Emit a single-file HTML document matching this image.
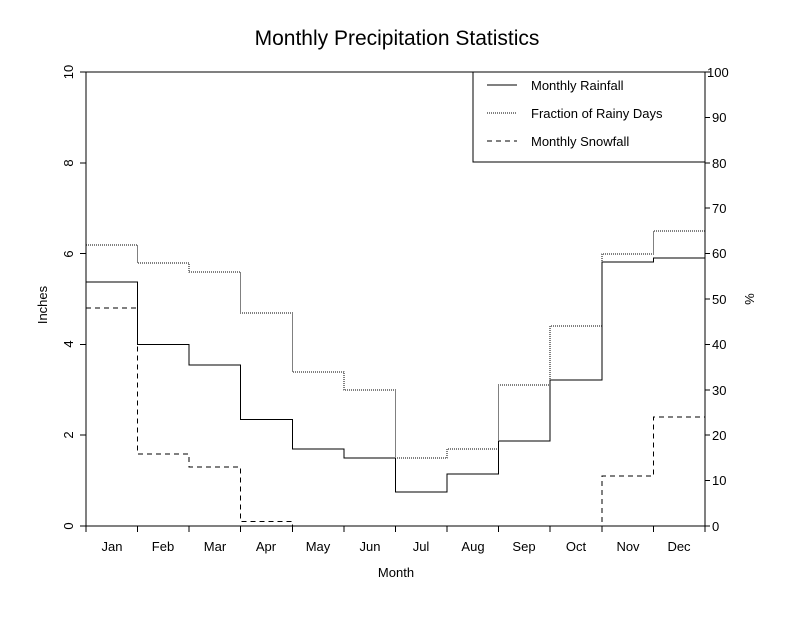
<!DOCTYPE html>
<html><head><meta charset="utf-8"><style>
html,body{margin:0;padding:0;background:#fff;}
text{font-family:"Liberation Sans",sans-serif;fill:#000;}
</style></head><body>
<svg width="792" height="612" viewBox="0 0 792 612" xmlns="http://www.w3.org/2000/svg">
<rect width="792" height="612" fill="#fff"/>
<text x="397" y="45" font-size="21" text-anchor="middle">Monthly Precipitation Statistics</text>
<g stroke="#000" stroke-width="1" fill="none" shape-rendering="crispEdges">
<line x1="86" y1="72" x2="705" y2="72"/>
<line x1="86" y1="72" x2="86" y2="526"/>
<line x1="705" y1="72" x2="705" y2="526"/>
<line x1="86" y1="526" x2="705" y2="526"/>
<path d="M80 526H86M80 435.2H86M80 344.4H86M80 253.6H86M80 162.8H86M80 72H86"/>
<path d="M705 526H710M705 480.6H710M705 435.2H710M705 389.8H710M705 344.4H710M705 299H710M705 253.6H710M705 208.2H710M705 162.8H710M705 117.4H710M705 72H710"/>
<path d="M86 526V532M137.6 526V532M189.2 526V532M240.7 526V532M292.3 526V532M343.9 526V532M395.5 526V532M447.1 526V532M498.7 526V532M550.2 526V532M601.8 526V532M653.4 526V532M705 526V532"/>
<rect x="473" y="72" width="232" height="90" fill="#fff"/>
<line x1="487" y1="85" x2="517" y2="85"/>
<line x1="487" y1="113" x2="517" y2="113" stroke-dasharray="1,1"/>
<line x1="487" y1="141" x2="517" y2="141" stroke-dasharray="5,4"/>
<path d="M86 282H137.6V344.4H189.2V365H240.7V419.5H292.3V449H343.9V458H395.5V492H447.1V474H498.7V441H550.2V380H601.8V262H653.4V258H705"/>
<path stroke-dasharray="1,1" d="M86 245H137.6V263H189.2V272H240.7V313H292.3V372H343.9V390H395.5V458H447.1V449H498.7V385H550.2V326H601.8V254H653.4V231H705"/>
<path stroke-dasharray="5,4" d="M86 308H137.6V454H189.2V467H240.7V521.5H292.3V526H601.8V476H653.4V417H705"/>
</g>
<g font-size="13" text-anchor="middle">
<text transform="translate(73,526) rotate(-90)">0</text>
<text transform="translate(73,435) rotate(-90)">2</text>
<text transform="translate(73,344) rotate(-90)">4</text>
<text transform="translate(73,254) rotate(-90)">6</text>
<text transform="translate(73,163) rotate(-90)">8</text>
<text transform="translate(73,72) rotate(-90)">10</text>
<text transform="translate(47,305) rotate(-90)">Inches</text>
<text transform="translate(745,299) rotate(90)">%</text>
</g>
<g font-size="13">
<text x="712" y="531">0</text>
<text x="712" y="485">10</text>
<text x="712" y="440">20</text>
<text x="712" y="395">30</text>
<text x="712" y="349">40</text>
<text x="712" y="304">50</text>
<text x="712" y="258">60</text>
<text x="712" y="213">70</text>
<text x="712" y="168">80</text>
<text x="712" y="122">90</text>
<text x="707" y="77">100</text>
<text x="531" y="90">Monthly Rainfall</text>
<text x="531" y="118">Fraction of Rainy Days</text>
<text x="531" y="146">Monthly Snowfall</text>
</g>
<g font-size="13" text-anchor="middle">
<text x="112" y="551">Jan</text>
<text x="163" y="551">Feb</text>
<text x="215" y="551">Mar</text>
<text x="266" y="551">Apr</text>
<text x="318" y="551">May</text>
<text x="370" y="551">Jun</text>
<text x="421" y="551">Jul</text>
<text x="473" y="551">Aug</text>
<text x="524" y="551">Sep</text>
<text x="576" y="551">Oct</text>
<text x="628" y="551">Nov</text>
<text x="679" y="551">Dec</text>
<text x="396" y="577">Month</text>
</g>
</svg>
</body></html>
